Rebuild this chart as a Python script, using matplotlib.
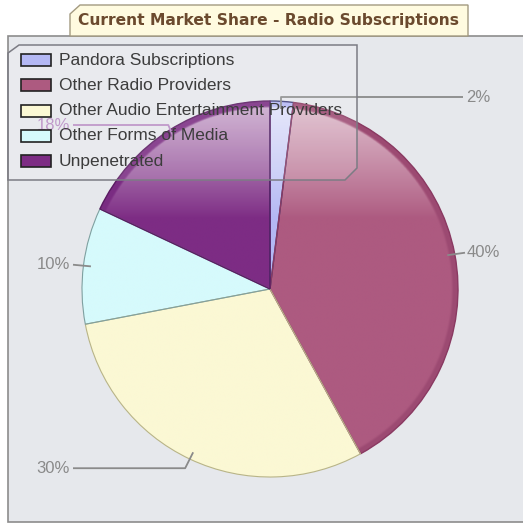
import numpy as np
import matplotlib
matplotlib.use("Agg")
import matplotlib.pyplot as plt
from matplotlib.patches import Polygon, PathPatch, Rectangle

# ---- data ----
categories = ["Pandora Subscriptions", "Other Radio Providers",
              "Other Audio Entertainment Providers", "Other Forms of Media",
              "Unpenetrated"]
shares = [2, 40, 30, 10, 18]
title = "Current Market Share - Radio Subscriptions"

# ---- style ----
base_colors = ["#b4b8f4", "#ad5a80", "#fbf8d4", "#d6fafc", "#7d2c84"]
rim_colors = ["#b4b8f4", "#9c4a72", "#fbf8d4", "#d6fafc", "#7a2c82"]
edge_colors = ["#3c3c78", "#8a3a62", "#b8b488", "#7fa0a0", "#5a1c62"]
edge_widths = [1.0, 1.0, 0.8, 0.8, 1.0]
label_colors = ["#8a8a8a", "#8a8a8a", "#8a8a8a", "#8a8a8a", "#b88cc4"]
W, H = 523, 525
bg = "#e6e8ec"

fig = plt.figure(figsize=(W / 100, H / 100), dpi=100)
fig.patch.set_facecolor("white")
ax = fig.add_axes([0, 0, 1, 1])


def Y(y):
    """Convert a top-down pixel row into axes y."""
    return H - y


# plot area panel
ax.add_patch(Rectangle((8, Y(522)), W, 522 - 36, facecolor=bg,
                       edgecolor="#8c8c8c", linewidth=1.2, zorder=0))

# title tab
tab = Polygon([(70, Y(36)), (70, Y(14)), (80, Y(5)), (468, Y(5)), (468, Y(36))],
              closed=True, facecolor="#fffbe0", edgecolor="#a39a80",
              linewidth=1.0, zorder=1)
ax.add_patch(tab)
ax.text(268.5, Y(20), title, ha="center", va="center", fontsize=11.2,
        fontweight="bold", color="#6b4a2e", family="DejaVu Sans", zorder=2)

# ---- pie ----
cx, cy, R = 270, Y(289), 188
wedges, _ = ax.pie(shares, colors=base_colors, startangle=90, counterclock=False,
                   center=(cx, cy), radius=R,
                   wedgeprops=dict(linewidth=0, zorder=3))

# vertical lighting on each slice, with an unlit bevel ring at the rim
n = 500
gy, gx = np.mgrid[0:n, 0:n] / (n - 1)            # gy = 0 at top of pie
rr = np.hypot(gx - 0.5, gy - 0.5) * 2 * R        # distance from centre in px
ring = np.clip((R - 4 - rr) / 2.5, 0, 1)
light = 0.62 * np.clip(1 - gy / 0.31, 0, 1) ** 0.9 * ring
for w, c, rc, ec, lw in zip(wedges, base_colors, rim_colors, edge_colors,
                            edge_widths):
    rgb = np.array(matplotlib.colors.to_rgb(c))
    rim = np.array(matplotlib.colors.to_rgb(rc))
    body = rgb[None, None, :] + (1 - rgb[None, None, :]) * light[:, :, None]
    img = body * ring[:, :, None] + rim[None, None, :] * (1 - ring[:, :, None])
    im = ax.imshow(img, extent=(cx - R, cx + R, cy - R, cy + R), origin="upper",
                   interpolation="bilinear", zorder=3.5)
    im.set_clip_path(w)
    ax.add_patch(PathPatch(w.get_path(), transform=w.get_transform(),
                           fill=False, edgecolor=ec, linewidth=lw, zorder=4))

# ---- value labels with leader lines ----
for w, v, lc in zip(wedges, shares, label_colors):
    mid = np.deg2rad((w.theta1 + w.theta2) / 2)
    ex, ey = cx + 0.96 * R * np.cos(mid), cy + 0.96 * R * np.sin(mid)
    ox, oy = cx + 1.03 * R * np.cos(mid), cy + 1.03 * R * np.sin(mid)
    txt = f"{v}%"
    if np.cos(mid) >= 0:
        if oy > cy + 0.9 * R:      # top slice: go up then right
            ly = Y(97)
            pts = [(ex, ey), (ex, ly), (463, ly)]
            tx = 466
        else:
            ly = oy
            pts = [(ex, ey), (465, ly)]
            tx = 467
        ha = "left"
    else:
        if abs(oy - cy) < 0.3 * R:
            ly = oy
            pts = [(ex, ey), (73, ly)]
        elif oy < cy:
            ly = oy - 4
            pts = [(ex, ey), (ex - 8, ly), (73, ly)]
        else:
            ly = Y(125)
            pts = [(ex, ey), (ex - 5, ly), (73, ly)]
        tx = 70
        ha = "right"
    xs, ys = zip(*pts)
    ax.plot(xs, ys, color=lc, linewidth=1.3, zorder=5, solid_capstyle="butt")
    ax.text(tx, ly, txt, ha=ha, va="center", fontsize=12, color=lc,
            family="Liberation Sans", zorder=5)

# ---- legend ----
leg = Polygon([(8, Y(53)), (19, Y(45)), (357, Y(45)), (357, Y(168)),
               (345, Y(180)), (8, Y(180))], closed=True,
              facecolor=(1, 1, 1, 0.12), edgecolor="#7c7c84", linewidth=1.1,
              zorder=6)
ax.add_patch(leg)
row0, step = 60, 25.3
for i, (name, c) in enumerate(zip(categories, base_colors)):
    yc = Y(row0 + i * step)
    ax.add_patch(Rectangle((21, yc - 6), 30, 12, facecolor=c,
                           edgecolor="#222222", linewidth=1.2, zorder=7))
    ax.text(59, yc, name, ha="left", va="center", fontsize=12.5,
            color="#3c3c3c", family="Liberation Sans", zorder=7)

ax.set_xlim(0, W)
ax.set_ylim(0, H)
ax.set_aspect("auto")
ax.axis("off")
fig.savefig("out.png", dpi=100, facecolor="white")
